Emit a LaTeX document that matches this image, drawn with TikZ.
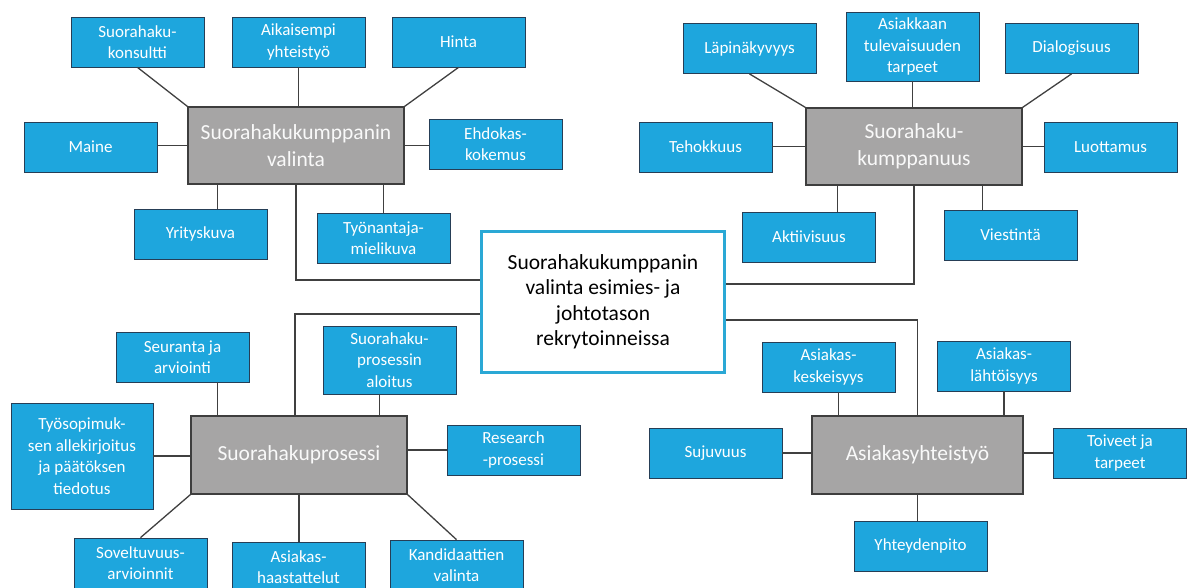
\documentclass[tikz,border=0pt]{standalone}
\usepackage{fontspec}
\setmainfont{Carlito}
\usepackage{xcolor}
\usepackage{tikz}
\usetikzlibrary{calc}

\definecolor{boxblue}{RGB}{30,166,221}
\definecolor{boxedge}{RGB}{38,62,86}
\definecolor{hubgray}{RGB}{166,165,165}
\definecolor{hubedge}{RGB}{62,62,62}
\definecolor{coreedge}{RGB}{42,168,213}
\definecolor{linkgray}{RGB}{64,64,64}

\begin{document}
\begin{tikzpicture}[x=1pt,y=-1pt,
    leaf/.style={draw=boxedge,line width=0.8pt,fill=boxblue,text=white,inner sep=0pt,
      minimum width=133pt,minimum height=50pt,align=center,
      font=\fontsize{17}{21.5}\selectfont},
    hub/.style={draw=hubedge,line width=1.2pt,fill=hubgray,text=white!95!gray,inner sep=0pt,
      minimum width=216pt,minimum height=77pt,align=center,
      font=\fontsize{21.5}{27}\selectfont},
    core/.style={draw=coreedge,line width=3pt,fill=white,text=black,inner sep=0pt,
      minimum width=243pt,minimum height=141pt,align=center,
      font=\fontsize{21.5}{25.5}\selectfont},
    link/.style={draw=linkgray,line width=1.3pt}]
    \useasboundingbox (0,0) rectangle (1194,587);

    \node[core] (core) at (603,302) {Suorahakukumppanin\\valinta esimies- ja\\johtotason\\rekrytoinneissa};

    \node[hub] (valinta) at (296,145.5) {Suorahakukumppanin\\valinta};
    \node[leaf] (konsultti) at (137.5,42) {Suorahaku-\\konsultti};
    \node[leaf] (aikaisempi) at (298.5,42) {Aikaisempi\\yhteistyö};
    \node[leaf] (hinta) at (458.5,42) {Hinta};
    \node[leaf] (maine) at (90.5,147) {Maine};
    \node[leaf] (ehdokas) at (495.5,144) {Ehdokas-\\kokemus};
    \node[leaf] (yrityskuva) at (200.5,234) {Yrityskuva};
    \node[leaf] (tyonantaja) at (383.5,238) {Työnantaja-\\mielikuva};

    \node[hub] (kumppanuus) at (914,146.5) {Suorahaku-\\kumppanuus};
    \node[leaf] (lapinakyvyys) at (749.5,48.5) {Läpinäkyvyys};
    \node[leaf,minimum height=69pt] (tarpeet) at (912.5,46.5) {Asiakkaan\\tulevaisuuden\\tarpeet};
    \node[leaf] (dialogisuus) at (1071.5,48.5) {Dialogisuus};
    \node[leaf] (tehokkuus) at (705.5,147) {Tehokkuus};
    \node[leaf] (luottamus) at (1110.5,147) {Luottamus};
    \node[leaf] (aktiivisuus) at (809,237) {Aktiivisuus};
    \node[leaf] (viestinta) at (1010.5,235) {Viestintä};

    \node[hub,minimum height=78pt] (prosessi) at (299,455) {Suorahakuprosessi};
    \node[leaf] (seuranta) at (182.5,357) {Seuranta ja\\arviointi};
    \node[leaf,minimum width=142pt,minimum height=106pt] (tyosopimus) at (82,456) {Työsopimuk-\\sen allekirjoitus\\ja päätöksen\\tiedotus};
    \node[leaf,minimum height=68pt] (aloitus) at (389.5,360) {Suorahaku-\\prosessin\\aloitus};
    \node[leaf] (research) at (513.5,450) {Research\\-prosessi};
    \node[leaf] (soveltuvuus) at (140.5,563) {Soveltuvuus-\\arvioinnit};
    \node[leaf] (haastattelut) at (298.5,567) {Asiakas-\\haastattelut};
    \node[leaf] (kandidaatit) at (456.5,565) {Kandidaattien\\valinta};

    \node[hub,minimum width=211pt,minimum height=78pt] (yhteistyo) at (917.5,455) {Asiakasyhteistyö};
    \node[leaf] (keskeisyys) at (828.5,367) {Asiakas-\\keskeisyys};
    \node[leaf] (lahtoisyys) at (1004,366) {Asiakas-\\lähtöisyys};
    \node[leaf] (sujuvuus) at (715.5,453) {Sujuvuus};
    \node[leaf] (toiveet) at (1120,453) {Toiveet ja\\tarpeet};
    \node[leaf] (yhteydenpito) at (920.5,546) {Yhteydenpito};

    \draw[link] (konsultti.south) -- (valinta.north west);
    \draw[link] (aikaisempi.south) -- (aikaisempi.south |- valinta.north);
    \draw[link] (hinta.south) -- (valinta.north east);
    \draw[link] (valinta.west) -- (valinta.west -| maine.east);
    \draw[link] (valinta.east) -- (valinta.east -| ehdokas.west);
    \draw[link] ([xshift=30pt]valinta.south west) -- ([xshift=30pt]valinta.south west |- yrityskuva.north);
    \draw[link] (tyonantaja.north) -- (tyonantaja.north |- valinta.south);
    \draw[link] (valinta.south) |- ([yshift=22pt]core.west);

    \draw[link] (lapinakyvyys.south) -- (kumppanuus.north west);
    \draw[link] (tarpeet.south) -- (tarpeet.south |- kumppanuus.north);
    \draw[link] (dialogisuus.south) -- (kumppanuus.north east);
    \draw[link] (kumppanuus.west) -- (kumppanuus.west -| tehokkuus.east);
    \draw[link] (kumppanuus.east) -- (kumppanuus.east -| luottamus.west);
    \draw[link] ([xshift=32pt]kumppanuus.south west) -- ([xshift=32pt]kumppanuus.south west |- aktiivisuus.north);
    \draw[link] ([xshift=-40pt]kumppanuus.south east) -- ([xshift=-40pt]kumppanuus.south east |- viestinta.north);
    \draw[link] (kumppanuus.south) |- ([yshift=18pt]core.east);

    \draw[link] ([xshift=27pt]prosessi.north west) -- ([xshift=27pt]prosessi.north west |- seuranta.south);
    \draw[link] (tyosopimus.east) -- (tyosopimus.east -| prosessi.west);
    \draw[link] ([xshift=-28pt]prosessi.north east) -- ([xshift=-28pt]prosessi.north east |- aloitus.south);
    \draw[link] (research.west) -- (research.west -| prosessi.east);
    \draw[link] (soveltuvuus.north) -- (prosessi.south west);
    \draw[link] (prosessi.south) -- (prosessi.south |- haastattelut.north);
    \draw[link] (kandidaatit.north) -- (prosessi.south east);
    \draw[link] ([xshift=-4pt]prosessi.north) |- ([yshift=-12pt]core.west);

    \draw[link] ([xshift=27pt]yhteistyo.north west) -- ([xshift=27pt]yhteistyo.north west |- keskeisyys.south);
    \draw[link] (lahtoisyys.south) -- (lahtoisyys.south |- yhteistyo.north);
    \draw[link] (sujuvuus.east) -- (sujuvuus.east -| yhteistyo.west);
    \draw[link] (toiveet.west) -- (toiveet.west -| yhteistyo.east);
    \draw[link] (yhteistyo.south) -- (yhteistyo.south |- yhteydenpito.north);
    \draw[link] ([yshift=-18pt]core.east) -| (yhteistyo.north);
\end{tikzpicture}
\end{document}
